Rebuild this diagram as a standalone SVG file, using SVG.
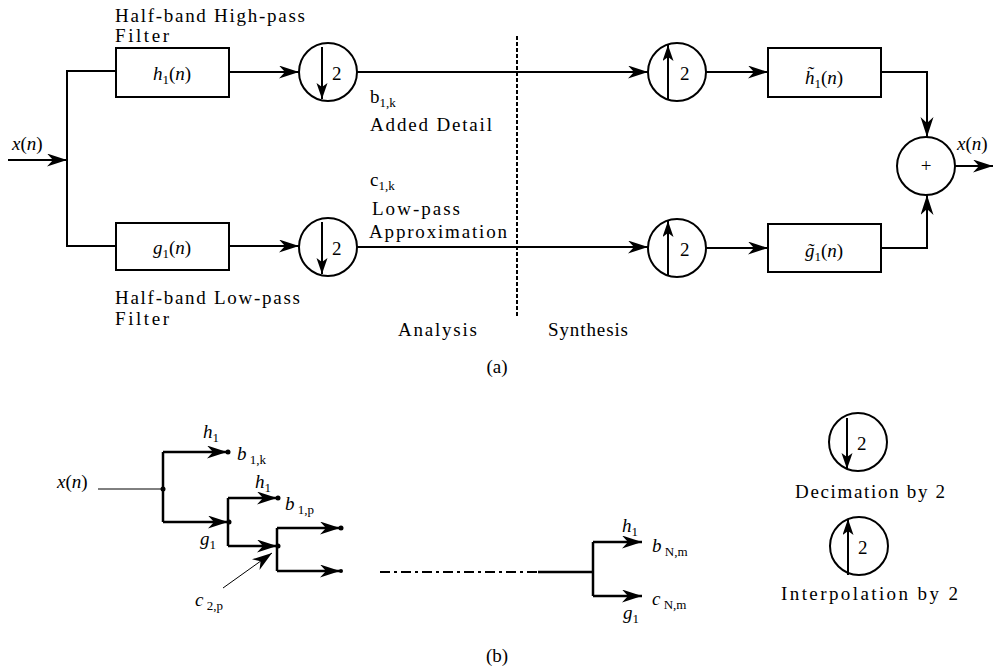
<svg xmlns="http://www.w3.org/2000/svg" width="994" height="668" viewBox="0 0 994 668">
<style>
.t{font-family:"Liberation Serif","Times New Roman",serif;font-size:19px;fill:#000}
.m{font-style:italic}
.s{font-size:13px}
.ln{stroke:#000;stroke-width:2;fill:none}
.tk{stroke:#000;stroke-width:2.5;fill:none}
.th{stroke:#000;stroke-width:1;fill:none}
.box{fill:#fff;stroke:#000;stroke-width:2}
.cir{fill:#fff;stroke:#000;stroke-width:2}
</style>
<defs>
<marker id="ah" markerUnits="userSpaceOnUse" markerWidth="22" markerHeight="14" refX="20" refY="6.5" orient="auto"><path d="M0,0 L20,6.5 L0,13 L6,6.5 z" fill="#000"/></marker>
<marker id="ahs" markerUnits="userSpaceOnUse" markerWidth="18" markerHeight="12" refX="16" refY="5.5" orient="auto"><path d="M0,0 L16,5.5 L0,11 L4,5.5 z" fill="#000"/></marker>
</defs>
<rect width="994" height="668" fill="#fff"/>

<g id="connectors">
<line class="ln" x1="8" y1="160" x2="67" y2="160" marker-end="url(#ah)"/>
<path class="ln" d="M116,71 H67 V246 H116"/>
<line class="ln" x1="229" y1="72" x2="299" y2="72" marker-end="url(#ah)"/>
<line class="ln" x1="229" y1="246" x2="299" y2="246" marker-end="url(#ah)"/>
<line class="ln" x1="357" y1="72" x2="648" y2="72" marker-end="url(#ah)"/>
<line class="ln" x1="357" y1="247" x2="648" y2="247" marker-end="url(#ah)"/>
<line class="ln" x1="706" y1="72" x2="768" y2="72" marker-end="url(#ah)"/>
<line class="ln" x1="706" y1="248" x2="768" y2="248" marker-end="url(#ah)"/>
<path class="ln" d="M881,72 H927 V137" marker-end="url(#ah)"/>
<path class="ln" d="M881,248 H927 V195" marker-end="url(#ah)"/>
<line class="ln" x1="955" y1="166" x2="993" y2="166" marker-end="url(#ah)"/>
<line x1="517" y1="36" x2="517" y2="318" stroke="#000" stroke-width="2" stroke-dasharray="4,2"/>

<line class="th" x1="98" y1="489" x2="163" y2="489"/>
<path class="tk" d="M163,452 V522"/>
<line class="tk" x1="163" y1="452" x2="227" y2="452" marker-end="url(#ah)"/>
<line class="tk" x1="163" y1="522" x2="228" y2="522" marker-end="url(#ah)"/>
<path class="tk" d="M228,498 V546"/>
<line class="tk" x1="228" y1="498" x2="277" y2="498" marker-end="url(#ah)"/>
<line class="tk" x1="228" y1="546" x2="277" y2="546" marker-end="url(#ah)"/>
<path class="tk" d="M277,528 V571"/>
<line class="tk" x1="277" y1="528" x2="340" y2="528" marker-end="url(#ah)"/>
<line class="tk" x1="277" y1="571" x2="340" y2="571" marker-end="url(#ah)"/>
<line class="th" x1="223" y1="588" x2="272" y2="553" marker-end="url(#ah)"/>
<line x1="380" y1="572" x2="538" y2="572" stroke="#000" stroke-width="2" stroke-dasharray="10,4,3,4"/>
<line class="tk" x1="538" y1="572" x2="593" y2="572"/>
<path class="tk" d="M593,542 V596"/>
<line class="tk" x1="593" y1="542" x2="642" y2="542" marker-end="url(#ah)"/>
<line class="tk" x1="593" y1="596" x2="642" y2="596" marker-end="url(#ah)"/>
<circle cx="163" cy="489" r="2.5"/>
<circle cx="228" cy="452" r="2.5"/>
<circle cx="229" cy="522" r="2.5"/>
<circle cx="278" cy="498" r="2.5"/>
<circle cx="278" cy="546" r="2.5"/>
<circle cx="341" cy="528" r="2.5"/>
<circle cx="341" cy="571" r="2"/>
</g>

<g id="hp_filter">
<rect class="box" x="116" y="48" width="113" height="49"/>
<text class="t" x="172" y="80" text-anchor="middle" font-size="21"><tspan class="m">h</tspan><tspan class="s" dy="4">1</tspan><tspan dy="-4">(</tspan><tspan class="m">n</tspan>)</text>
</g>
<g id="lp_filter">
<rect class="box" x="116" y="223" width="113" height="47"/>
<text class="t" x="172" y="254" text-anchor="middle" font-size="21"><tspan class="m">g</tspan><tspan class="s" dy="4">1</tspan><tspan dy="-4">(</tspan><tspan class="m">n</tspan>)</text>
</g>
<g id="dec_top">
<circle class="cir" cx="328" cy="72" r="29"/>
<line class="ln" x1="322" y1="47" x2="322" y2="99" marker-end="url(#ahs)"/>
<text class="t" x="332" y="80" font-size="21">2</text>
</g>
<g id="dec_bot">
<circle class="cir" cx="328" cy="247" r="29"/>
<line class="ln" x1="322" y1="222" x2="322" y2="274" marker-end="url(#ahs)"/>
<text class="t" x="332" y="255" font-size="21">2</text>
</g>
<g id="int_top">
<circle class="cir" cx="677" cy="72" r="29"/>
<line class="ln" x1="668" y1="100" x2="668" y2="45" marker-end="url(#ahs)"/>
<text class="t" x="680" y="80" font-size="21">2</text>
</g>
<g id="int_bot">
<circle class="cir" cx="677" cy="248" r="29"/>
<line class="ln" x1="668" y1="276" x2="668" y2="221" marker-end="url(#ahs)"/>
<text class="t" x="680" y="256" font-size="21">2</text>
</g>
<g id="hs_filter">
<rect class="box" x="768" y="48" width="113" height="49"/>
<text class="t" x="824" y="84" text-anchor="middle" font-size="21"><tspan class="m">h&#771;</tspan><tspan class="s" dy="4">1</tspan><tspan dy="-4">(</tspan><tspan class="m">n</tspan>)</text>
</g>
<g id="gs_filter">
<rect class="box" x="768" y="224" width="113" height="48"/>
<text class="t" x="824" y="257" text-anchor="middle" font-size="21"><tspan class="m">g&#771;</tspan><tspan class="s" dy="4">1</tspan><tspan dy="-4">(</tspan><tspan class="m">n</tspan>)</text>
</g>
<g id="sum">
<circle class="cir" cx="926" cy="166" r="29"/>
<text class="t" x="926" y="172" text-anchor="middle" font-size="18">+</text>
</g>

<g id="labels_a">
<text class="t" x="12" y="150" font-size="21"><tspan class="m">x</tspan>(<tspan class="m">n</tspan>)</text>
<text class="t" x="957" y="150" font-size="21"><tspan class="m">x</tspan>(<tspan class="m">n</tspan>)</text>
<text class="t" x="115" y="22" textLength="190" lengthAdjust="spacing">Half-band High-pass</text>
<text class="t" x="115" y="42" textLength="54" lengthAdjust="spacing">Filter</text>
<text class="t" x="115" y="304" textLength="185" lengthAdjust="spacing">Half-band Low-pass</text>
<text class="t" x="115" y="325" textLength="54" lengthAdjust="spacing">Filter</text>
<text class="t" x="370" y="103">b<tspan class="s" dy="4">1,k</tspan></text>
<text class="t" x="370" y="131" textLength="122" lengthAdjust="spacing">Added Detail</text>
<text class="t" x="370" y="186">c<tspan class="s" dy="4">1,k</tspan></text>
<text class="t" x="372" y="215" textLength="88" lengthAdjust="spacing">Low-pass</text>
<text class="t" x="369" y="238" textLength="138" lengthAdjust="spacing">Approximation</text>
<text class="t" x="398" y="336" textLength="79" lengthAdjust="spacing">Analysis</text>
<text class="t" x="548" y="336" textLength="80" lengthAdjust="spacing">Synthesis</text>
<text class="t" x="497" y="373" text-anchor="middle" font-size="17">(a)</text>
</g>

<g id="labels_b">
<text class="t" x="57" y="488" font-size="21"><tspan class="m">x</tspan>(<tspan class="m">n</tspan>)</text>
<text class="t" x="203" y="438" font-size="21"><tspan class="m">h</tspan><tspan class="s" dy="4">1</tspan></text>
<text class="t" x="237" y="460" font-size="21"><tspan class="m">b</tspan><tspan class="s" dy="4"> 1,k</tspan></text>
<text class="t" x="200" y="545" font-size="21"><tspan class="m">g</tspan><tspan class="s" dy="4">1</tspan></text>
<text class="t" x="255" y="488" font-size="21"><tspan class="m">h</tspan><tspan class="s" dy="4">1</tspan></text>
<text class="t" x="285" y="510" font-size="21"><tspan class="m">b</tspan><tspan class="s" dy="4"> 1,p</tspan></text>
<text class="t" x="195" y="606" font-size="21"><tspan class="m">c</tspan><tspan class="s" dy="4"> 2,p</tspan></text>
<text class="t" x="622" y="532" font-size="21"><tspan class="m">h</tspan><tspan class="s" dy="4">1</tspan></text>
<text class="t" x="652" y="552" font-size="21"><tspan class="m">b</tspan><tspan class="s" dy="4"> N,m</tspan></text>
<text class="t" x="652" y="605" font-size="21"><tspan class="m">c</tspan><tspan class="s" dy="4"> N,m</tspan></text>
<text class="t" x="623" y="619" font-size="21"><tspan class="m">g</tspan><tspan class="s" dy="4">1</tspan></text>
<text class="t" x="497" y="662" text-anchor="middle" font-size="17">(b)</text>
</g>

<g id="legend_dec">
<circle class="cir" cx="858" cy="442" r="29"/>
<line class="ln" x1="847" y1="418" x2="847" y2="469" marker-end="url(#ahs)"/>
<text class="t" x="857" y="450" font-size="21">2</text>
<text class="t" x="795" y="498" textLength="150" lengthAdjust="spacing">Decimation by 2</text>
</g>
<g id="legend_int">
<circle class="cir" cx="859" cy="546" r="29"/>
<line class="ln" x1="848" y1="575" x2="848" y2="519" marker-end="url(#ahs)"/>
<text class="t" x="858" y="554" font-size="21">2</text>
<text class="t" x="781" y="600" textLength="177" lengthAdjust="spacing">Interpolation by 2</text>
</g>
</svg>
